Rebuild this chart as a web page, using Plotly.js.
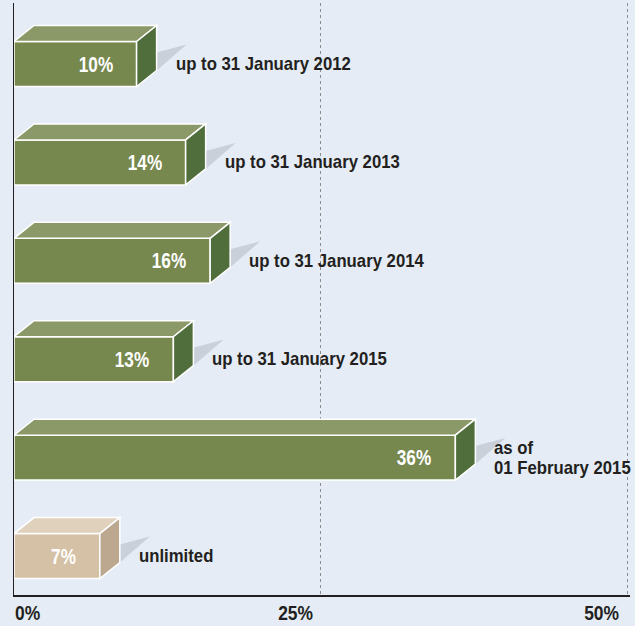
<!DOCTYPE html>
<html>
<head>
<meta charset="utf-8">
<script src="https://cdn.plot.ly/plotly-3.0.1.min.js"></script>
<style>
  html, body { margin: 0; padding: 0; background: #e5ecf5; }
  #chart { width: 635px; height: 626px; }
</style>
</head>
<body>
<div id="chart"></div>
<script>
// ---- data ----
const categories = [
  "up to 31 January 2012",
  "up to 31 January 2013",
  "up to 31 January 2014",
  "up to 31 January 2015",
  "as of<br>01 February 2015",
  "unlimited"
];
const values = [10, 14, 16, 13, 36, 7];
const valueLabels = ["10%", "14%", "16%", "13%", "36%", "7%"];
const tickValues = [0, 25, 50];
const tickLabels = ["0%", "25%", "50%"];

// ---- layout geometry ----
const W = 635, H = 626;
const M = { l: 14, r: 5, t: 3, b: 31 };
const plotW = W - M.l - M.r;
const plotH = H - M.t - M.b;
const xRange = [0, 50 * plotW / 613];
const yRange = [5.396, -0.62];
const pxX = (xRange[1] - xRange[0]) / plotW;
const pxY = (yRange[0] - yRange[1]) / plotH;
const barW = 0.457;
const depthX = 20 * pxX;
const depthY = 16 * pxY;

const BG = "#e5ecf5";
const TXT = "#231f20";
const FONT = "Liberation Sans, Arial, sans-serif";

const idx = categories.map((_, i) => i);
const isLast = i => i === categories.length - 1;
const frontCol = idx.map(i => isLast(i) ? "#d5c1a6" : "#77884f");
const topCol = idx.map(i => isLast(i) ? "#e0d1bd" : "#8b9868");
const sideCol = idx.map(i => isLast(i) ? "#bba88f" : "#4f6e3b");

const trace = {
  type: "bar",
  orientation: "h",
  y: idx,
  x: values,
  width: barW,
  marker: { color: frontCol, line: { color: "#ffffff", width: 1.5 } },
  hoverinfo: "skip"
};

const shapes = [];
values.forEach((v, i) => {
  const yt = i - barW / 2, yb = i + barW / 2;
  // shadow wedge
  shapes.push({
    type: "path", layer: "below", line: { width: 0 },
    fillcolor: "rgba(135,142,155,0.3)",
    path: `M ${v + depthX},${yb - depthY} L ${v + depthX + 30 * pxX},${yb - depthY - 26 * pxY} L ${v + depthX},${yb - depthY - 18 * pxY} Z`
  });
  // top face
  shapes.push({
    type: "path", layer: "above", line: { color: "#ffffff", width: 1.5 },
    fillcolor: topCol[i],
    path: `M 0,${yt} L ${v},${yt} L ${v + depthX},${yt - depthY} L ${depthX},${yt - depthY} Z`
  });
  // side face
  shapes.push({
    type: "path", layer: "above", line: { color: "#ffffff", width: 1.5 },
    fillcolor: sideCol[i],
    path: `M ${v},${yt} L ${v + depthX},${yt - depthY} L ${v + depthX},${yb - depthY} L ${v},${yb} Z`
  });
});

// annotations + a parallel list of condensing styles (text stays real text)
const annotations = [];
const annSquash = [];
values.forEach((v, i) => {
  annotations.push({
    x: v, y: i, xref: "x", yref: "y", text: valueLabels[i],
    showarrow: false, xanchor: "right", yanchor: "middle", xshift: -22,
    font: { family: FONT, size: 22, color: "#ffffff", weight: "bold" }
  });
  annSquash.push({ s: 0.78, o: "right center" });
  const lines = categories[i].split("<br>");
  lines.forEach((ln, k) => {
    annotations.push({
      x: v, y: i, xref: "x", yref: "y", text: ln,
      showarrow: false, xanchor: "left", yanchor: "middle", align: "left", xshift: 38,
      yshift: ((lines.length - 1) / 2 - k) * 20, borderpad: 0,
      font: { family: FONT, size: 18, color: TXT, weight: "bold" }
    });
    annSquash.push({ s: 0.93, o: "left center" });
  });
});
tickValues.forEach((t, k) => {
  annotations.push({
    x: t, y: -17 / plotH, xref: "x", yref: "paper", text: tickLabels[k],
    showarrow: false, xanchor: k === 0 ? "left" : "right", yanchor: "middle",
    xshift: k === 0 ? -1 : -6,
    font: { family: FONT, size: 21, color: TXT, weight: "bold" }
  });
  annSquash.push({ s: 0.83, o: k === 0 ? "left center" : "right center" });
});

const layout = {
  width: W, height: H,
  margin: M,
  paper_bgcolor: BG, plot_bgcolor: BG,
  showlegend: false,
  xaxis: {
    range: xRange, fixedrange: true,
    tickvals: tickValues.slice(1), showticklabels: false, ticks: "",
    showgrid: true, gridcolor: "#8c8c8c", gridwidth: 1, griddash: "dot",
    zeroline: false, showline: true, linecolor: TXT, linewidth: 1.5
  },
  yaxis: {
    range: yRange, fixedrange: true,
    showticklabels: false, ticks: "", showgrid: false, zeroline: false,
    showline: true, linecolor: TXT, linewidth: 1.5
  },
  shapes: shapes,
  annotations: annotations
};

function squash() {
  document.querySelectorAll("#chart g.annotation").forEach(g => {
    const i = +g.getAttribute("data-index");
    const st = annSquash[i];
    const t = g.querySelector("text.annotation-text");
    if (!st || !t) return;
    t.style.transformBox = "fill-box";
    t.style.transformOrigin = st.o;
    t.style.transform = "scaleX(" + st.s + ")";
  });
}

Plotly.newPlot("chart", [trace], layout, { staticPlot: true, displayModeBar: false }).then(squash);
</script>
</body>
</html>
